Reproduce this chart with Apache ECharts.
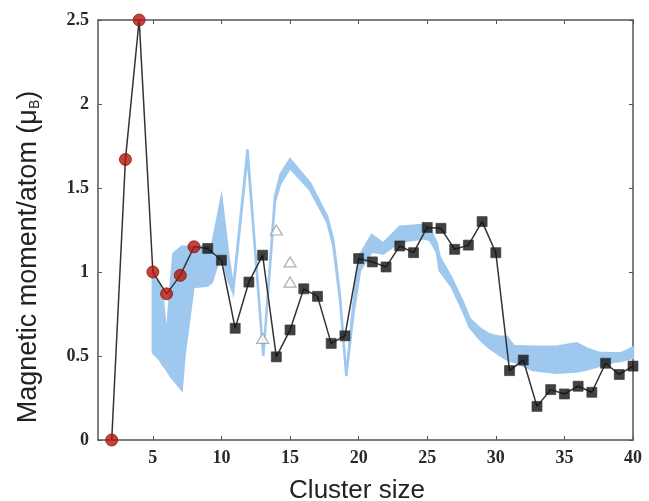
<!DOCTYPE html>
<html>
<head>
<meta charset="utf-8">
<script src="https://cdn.jsdelivr.net/npm/echarts@6/dist/echarts.min.js"></script>
<style>
  html, body { margin: 0; padding: 0; background: #fff; }
  #chart { width: 649px; height: 501px; }
</style>
</head>
<body>
<div id="chart"></div>
<script>
// Small clusters (red circles), sizes 2-8
const circleX = [2, 3, 4, 5, 6, 7, 8];
const circleY = [0, 1.67, 2.5, 1.0, 0.87, 0.98, 1.15];

// Larger clusters (black squares), sizes 9-40
const squareX = [9, 10, 11, 12, 13, 14, 15, 16, 17, 18, 19, 20, 21, 22, 23, 24,
                 25, 26, 27, 28, 29, 30, 31, 32, 33, 34, 35, 36, 37, 38, 39, 40];
const squareY = [1.14, 1.07, 0.665, 0.94, 1.10, 0.495, 0.655, 0.90, 0.855, 0.575, 0.62, 1.08,
                 1.06, 1.03, 1.155, 1.115, 1.265, 1.26, 1.135, 1.16, 1.30, 1.115, 0.413, 0.476,
                 0.20, 0.30, 0.274, 0.32, 0.284, 0.457, 0.39, 0.44];

// Alternative isomers (open triangles)
const triX = [13, 14, 15, 15];
const triY = [0.605, 1.25, 1.06, 0.94];

// Experimental range (blue band): upper and lower bounds
const bandX  = [5.0, 5.5, 5.7, 6.0, 6.3, 6.5, 7.1, 7.3, 7.95, 9.0, 9.3, 10.0, 10.5, 10.85, 11.9, 13.05,
                13.9, 14.3, 15.0, 16.45, 17.7, 18.15, 18.65, 19.1, 19.6, 20.1, 20.95, 21.8, 23.0,
                24.7, 25.2, 25.7, 25.9, 26.8, 27.6, 28.1, 28.9, 29.5, 30.2, 30.8, 31.3, 32.7,
                34.4, 35.9, 36.6, 37.5, 38.6, 39.1, 40.0];
const bandHi = [0.97, 0.92, 0.86, 0.60, 0.92, 1.11, 1.15, 1.15, 1.15, 1.15, 1.15, 1.44, 1.10, 0.90, 1.73, 0.50,
                1.45, 1.58, 1.67, 1.53, 1.33, 1.19, 0.85, 0.38, 0.80, 1.10, 1.22, 1.17, 1.27,
                1.28, 1.26, 1.17, 1.09, 0.96, 0.82, 0.72, 0.66, 0.63, 0.615, 0.615, 0.56, 0.555,
                0.555, 0.575, 0.545, 0.52, 0.516, 0.516, 0.55];
const bandLo = [0.52, 0.48, 0.45, 0.42, 0.38, 0.36, 0.30, 0.50, 0.91, 0.92, 0.94, 1.12, 0.95, 0.88, 1.70, 0.50,
                1.42, 1.53, 1.62, 1.49, 1.30, 1.16, 0.83, 0.38, 0.74, 1.01, 1.12, 1.11, 1.18,
                1.20, 1.19, 1.12, 1.01, 0.91, 0.77, 0.67, 0.595, 0.55, 0.51, 0.48, 0.466, 0.417,
                0.40, 0.407, 0.42, 0.44, 0.466, 0.47, 0.49];

const xTicks = [5, 10, 15, 20, 25, 30, 35, 40];
const yTicks = [0, 0.5, 1, 1.5, 2, 2.5];

const allX = circleX.concat(squareX);
const allY = circleY.concat(squareY);

const axisColor = '#555';
const bandColor = '#9fc8ef';
const tickFont = { fontFamily: 'Liberation Serif', fontSize: 18, fontWeight: 'bold', color: '#2a2a2a' };

const chart = echarts.init(document.getElementById('chart'), null, { renderer: 'canvas' });

function makeXAxis(pos, showLabels) {
  return {
    type: 'value', position: pos, min: 1, max: 40,
    axisLine: { show: true, onZero: false, lineStyle: { color: axisColor, width: 1.5 } },
    axisTick: { show: true, inside: true, length: 4, customValues: xTicks, lineStyle: { color: axisColor } },
    axisLabel: Object.assign({ show: showLabels, customValues: xTicks, margin: 9 }, tickFont),
    splitLine: { show: false }
  };
}
function makeYAxis(pos, showLabels) {
  return {
    type: 'value', position: pos, min: 0, max: 2.5,
    axisLine: { show: true, onZero: false, lineStyle: { color: axisColor, width: 1.5 } },
    axisTick: { show: true, inside: true, length: 4, customValues: yTicks, lineStyle: { color: axisColor } },
    axisLabel: Object.assign({ show: showLabels, customValues: yTicks, margin: 9 }, tickFont),
    splitLine: { show: false }
  };
}

chart.setOption({
  backgroundColor: '#fff',
  animation: false,
  grid: { left: 98, right: 16, top: 20, bottom: 61 },
  xAxis: [makeXAxis('bottom', true), makeXAxis('top', false)],
  yAxis: [makeYAxis('left', true), makeYAxis('right', false)],
  graphic: [
    {
      type: 'text', x: 357, y: 491,
      style: { text: 'Cluster size', fontFamily: 'Liberation Sans', fontSize: 26, fill: '#222',
               textAlign: 'center', textVerticalAlign: 'middle' }
    },
    {
      type: 'text', x: 29, y: 257, rotation: Math.PI / 2,
      style: {
        text: 'Magnetic moment/atom (μ{s|B})',
        fontFamily: 'Liberation Sans', fontSize: 27, fill: '#222',
        textAlign: 'center', textVerticalAlign: 'middle',
        rich: { s: { fontFamily: 'Liberation Sans', fontSize: 14, fill: '#222', padding: [13, 0, 0, 0] } }
      }
    }
  ],
  series: [
    {
      // shaded band: one polygon along the upper bound and back along the lower bound
      type: 'custom',
      z: 1,
      data: bandX.map((x, i) => [x, bandHi[i], bandLo[i]]),
      renderItem: function (params, api) {
        if (params.dataIndex !== 0) return null;
        const pts = [];
        for (let i = 0; i < bandX.length; i++) pts.push(api.coord([bandX[i], bandHi[i]]));
        for (let i = bandX.length - 1; i >= 0; i--) pts.push(api.coord([bandX[i], bandLo[i]]));
        return {
          type: 'polygon',
          shape: { points: pts },
          style: { fill: bandColor, stroke: bandColor, lineWidth: 2.5, lineJoin: 'miter' }
        };
      }
    },
    {
      type: 'scatter', z: 3,
      data: triX.map((x, i) => [x, triY[i]]),
      symbol: 'triangle', symbolSize: [12, 10],
      itemStyle: { color: '#fff', borderColor: '#9a9a9a', borderWidth: 1.2 }
    },
    {
      type: 'line', z: 4, clip: false,
      data: allX.map((x, i) => [x, allY[i]]),
      showSymbol: false, symbol: 'none',
      lineStyle: { color: '#333', width: 1.5 }
    },
    {
      type: 'scatter', z: 5, clip: false,
      data: circleX.map((x, i) => [x, circleY[i]]),
      symbol: 'circle', symbolSize: 12,
      itemStyle: { color: '#b3170d', borderColor: '#8c1209', borderWidth: 1 }
    },
    {
      type: 'scatter', z: 5, clip: false,
      data: squareX.map((x, i) => [x, squareY[i]]),
      symbol: 'rect', symbolSize: 10,
      itemStyle: { color: '#111', borderColor: '#333', borderWidth: 0.8 }
    }
  ]
});
</script>
</body>
</html>
